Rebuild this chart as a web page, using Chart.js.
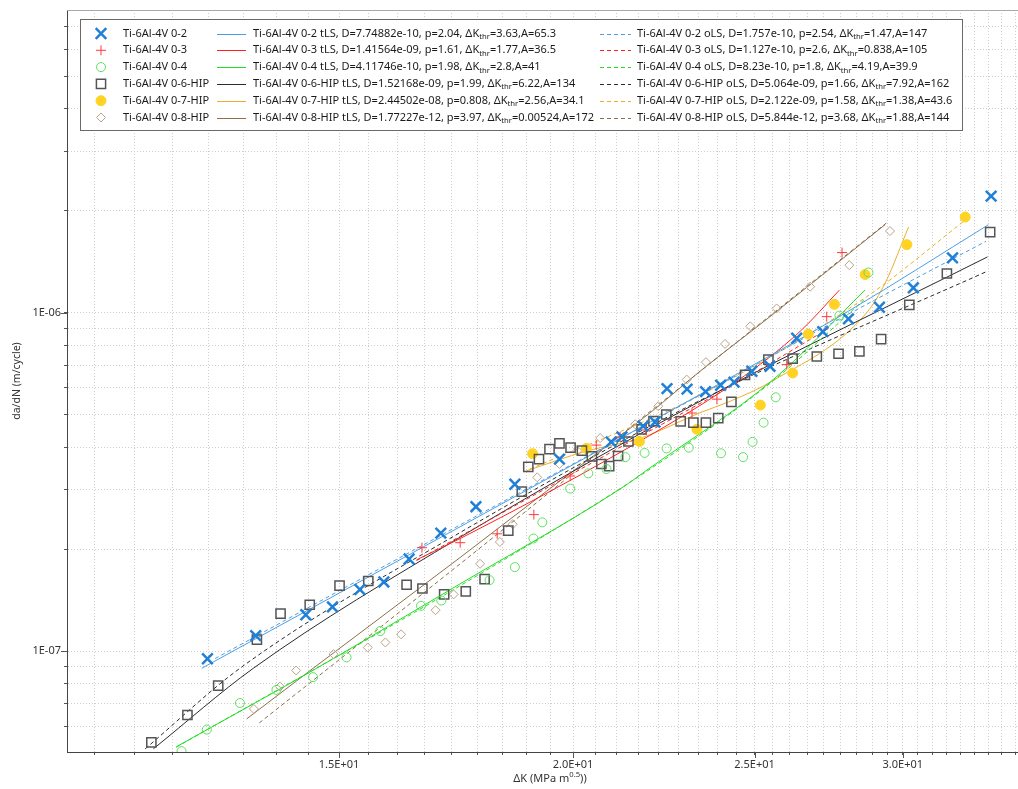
<!DOCTYPE html>
<html>
<head>
<meta charset="utf-8">
<script src="https://cdn.jsdelivr.net/npm/chart.js@4.4.0/dist/chart.umd.min.js"></script>
<style>
  html, body { margin: 0; padding: 0; background: #fff; overflow: hidden; }
</style>
</head>
<body>
<canvas id="crackChart" width="1040" height="789"></canvas>
<script>
// sample names
const samples = ['Ti-6Al-4V 0-2', 'Ti-6Al-4V 0-3', 'Ti-6Al-4V 0-4', 'Ti-6Al-4V 0-6-HIP', 'Ti-6Al-4V 0-7-HIP', 'Ti-6Al-4V 0-8-HIP'];

// fit parameters as printed in the legend (kept as text so the format stays)
const tlsD  = ['7.74882e-10', '1.41564e-09', '4.11746e-10', '1.52168e-09', '2.44502e-08', '1.77227e-12'];
const tlsP  = ['2.04', '1.61', '1.98', '1.99', '0.808', '3.97'];
const tlsDK = ['3.63', '1.77', '2.8', '6.22', '2.56', '0.00524'];
const tlsA  = ['65.3', '36.5', '41', '134', '34.1', '172'];
const olsD  = ['1.757e-10', '1.127e-10', '8.23e-10', '5.064e-09', '2.122e-09', '5.844e-12'];
const olsP  = ['2.54', '2.6', '1.8', '1.66', '1.58', '3.68'];
const olsDK = ['1.47', '0.838', '4.19', '7.92', '1.38', '1.88'];
const olsA  = ['147', '105', '39.9', '162', '43.6', '144'];

// measured points, dK (MPa m^0.5) and da/dN (m/cycle)
const dk02 = [12.76, 13.54, 14.40, 14.88, 15.39, 15.85, 16.35, 17.00, 17.75, 18.62, 19.67, 20.96, 21.24, 21.80, 22.12, 22.45, 23.01, 23.54, 23.98, 24.38, 24.92, 25.48, 26.33, 27.19, 28.06, 29.15, 30.39, 31.89, 33.44];
const da02 = [0.949e-7, 1.11e-7, 1.28e-7, 1.35e-7, 1.52e-7, 1.60e-7, 1.87e-7, 2.23e-7, 2.67e-7, 3.11e-7, 3.69e-7, 4.15e-7, 4.29e-7, 4.62e-7, 4.75e-7, 5.96e-7, 5.94e-7, 5.84e-7, 6.10e-7, 6.23e-7, 6.71e-7, 6.94e-7, 8.40e-7, 8.79e-7, 9.58e-7, 10.37e-7, 11.84e-7, 14.51e-7, 22.09e-7];

const dk03 = [16.61, 17.41, 18.22, 19.06, 19.93, 20.58, 21.19, 21.88, 23.15, 23.87, 26.01, 27.32, 27.84];
const da03 = [2.02e-7, 2.09e-7, 2.22e-7, 2.53e-7, 3.29e-7, 4.06e-7, 4.29e-7, 4.50e-7, 5.05e-7, 5.55e-7, 7.02e-7, 9.73e-7, 15.05e-7];

const dk04 = [12.36, 12.75, 13.28, 13.89, 14.53, 15.14, 15.78, 16.59, 17.01, 18.05, 18.62, 19.05, 19.26, 19.93, 20.38, 20.84, 21.33, 21.84, 22.44, 23.06, 23.99, 24.65, 24.94, 25.28, 25.66, 27.75, 28.76];
const da04 = [0.506e-7, 0.586e-7, 0.702e-7, 0.768e-7, 0.837e-7, 0.958e-7, 1.145e-7, 1.36e-7, 1.41e-7, 1.62e-7, 1.77e-7, 2.15e-7, 2.40e-7, 3.02e-7, 3.35e-7, 3.45e-7, 3.74e-7, 3.85e-7, 3.97e-7, 3.99e-7, 3.84e-7, 3.74e-7, 4.15e-7, 4.73e-7, 5.62e-7, 9.80e-7, 13.14e-7];

const dk06 = [11.91, 12.45, 12.93, 13.56, 13.96, 14.47, 15.01, 15.55, 16.30, 16.62, 17.07, 17.53, 17.94, 18.47, 18.78, 18.93, 19.18, 19.43, 19.67, 19.94, 20.22, 20.47, 20.71, 20.91, 21.14, 21.41, 21.76, 22.08, 22.43, 22.83, 23.19, 23.55, 23.91, 24.30, 24.71, 25.43, 26.20, 26.99, 27.72, 28.44, 29.21, 30.24, 31.67, 33.40];
const da06 = [0.537e-7, 0.647e-7, 0.790e-7, 1.08e-7, 1.29e-7, 1.37e-7, 1.56e-7, 1.61e-7, 1.57e-7, 1.53e-7, 1.47e-7, 1.50e-7, 1.63e-7, 2.27e-7, 2.96e-7, 3.50e-7, 3.69e-7, 3.95e-7, 4.11e-7, 3.99e-7, 3.91e-7, 3.76e-7, 3.57e-7, 3.52e-7, 3.77e-7, 4.16e-7, 4.52e-7, 4.78e-7, 5.00e-7, 4.77e-7, 4.73e-7, 4.73e-7, 4.88e-7, 5.45e-7, 6.55e-7, 7.26e-7, 7.31e-7, 7.42e-7, 7.56e-7, 7.68e-7, 8.35e-7, 10.54e-7, 13.05e-7, 17.30e-7];

const dk07 = [19.03, 20.33, 21.70, 23.29, 25.18, 26.20, 26.71, 27.58, 28.64, 30.15, 32.39];
const da07 = [3.83e-7, 3.97e-7, 4.16e-7, 4.52e-7, 5.33e-7, 6.63e-7, 8.64e-7, 10.58e-7, 12.96e-7, 15.88e-7, 19.16e-7];

const dk08 = [13.51, 13.95, 14.23, 14.90, 15.54, 15.88, 16.19, 16.89, 17.27, 17.84, 18.28, 18.57, 19.14, 19.67, 20.11, 20.68, 21.59, 22.21, 23.00, 23.55, 24.11, 24.87, 25.69, 26.77, 28.09, 29.53];
const da08 = [0.674e-7, 0.785e-7, 0.876e-7, 0.979e-7, 1.024e-7, 1.06e-7, 1.12e-7, 1.32e-7, 1.47e-7, 1.81e-7, 2.10e-7, 2.37e-7, 3.26e-7, 3.57e-7, 3.91e-7, 4.26e-7, 4.68e-7, 5.29e-7, 6.34e-7, 7.14e-7, 8.08e-7, 9.11e-7, 10.29e-7, 11.93e-7, 13.81e-7, 17.42e-7];

// fitted curves (tLS solid, oLS dashed)
const tls02x = [12.67, 17.41, 23.38, 28.06, 33.33];
const tls02y = [0.889e-7, 2.33e-7, 5.73e-7, 10.1e-7, 18.19e-7];
const ols02x = [12.88, 17.41, 23.38, 28.06, 33.23];
const ols02y = [0.95e-7, 2.36e-7, 5.7e-7, 9.9e-7, 16.25e-7];

const tls03x = [16.50, 17.41, 21.19, 24.46, 26.44, 27.75];
const tls03y = [1.86e-7, 2.15e-7, 3.86e-7, 6.27e-7, 8.8e-7, 11.66e-7];
const ols03x = [16.50, 21.19, 24.46, 27.40];
const ols03y = [1.85e-7, 4.0e-7, 6.2e-7, 9.0e-7];

const tls04x = [12.28, 14.59, 17.41, 21.19, 21.99, 25.59, 28.64];
const tls04y = [0.521e-7, 0.889e-7, 1.58e-7, 3.01e-7, 3.48e-7, 6.35e-7, 11.66e-7];
const ols04x = [12.28, 17.41, 21.99, 25.59, 28.60];
const ols04y = [0.52e-7, 1.56e-7, 3.45e-7, 6.3e-7, 10.9e-7];

const tls06x = [11.94, 13.50, 17.41, 23.38, 33.29];
const tls06y = [0.514e-7, 0.889e-7, 2.17e-7, 5.47e-7, 14.61e-7];
const ols06x = [11.82, 13.28, 17.41, 23.38, 33.23];
const ols06y = [0.514e-7, 0.889e-7, 2.24e-7, 5.5e-7, 13.20e-7];

const tls07x = [18.89, 20.34, 21.72, 23.38, 24.22, 25.54, 28.70, 29.37, 30.21];
const tls07y = [3.41e-7, 3.90e-7, 4.25e-7, 5.06e-7, 5.45e-7, 6.27e-7, 10.0e-7, 12.3e-7, 17.9e-7];
const ols07x = [18.97, 23.38, 28.70, 32.46];
const ols07y = [3.45e-7, 5.7e-7, 11.15e-7, 18.94e-7];

const tls08x = [13.39, 14.53, 17.41, 19.68, 21.99, 23.38, 25.48, 29.35];
const tls08y = [0.630e-7, 0.889e-7, 1.89e-7, 3.18e-7, 5.06e-7, 6.71e-7, 9.73e-7, 18.19e-7];
const ols08x = [13.60, 17.41, 23.38, 29.40];
const ols08y = [0.613e-7, 1.81e-7, 6.7e-7, 18.4e-7];

// labelled ticks
const xTickLabels = [15, 20, 25, 30];
const yTickLabels = [1e-7, 1e-6];

const FONT = '"Noto Sans", "Segoe UI", sans-serif';

const markerStyles = [
  { shape: 'crossRot', r: 7.5, lw: 2.5, stroke: '#2080d8', fill: '#2080d8' },
  { shape: 'cross', r: 5, lw: 1, stroke: '#ff3a3a', fill: '#ff3a3a' },
  { shape: 'circle', r: 4.5, lw: 1, stroke: '#5ee05e', fill: 'rgba(0,0,0,0)' },
  { shape: 'rect', r: 6.5, lw: 1.5, stroke: '#555555', fill: 'rgba(0,0,0,0)' },
  { shape: 'circle', r: 5, lw: 1, stroke: '#ffd324', fill: '#ffd324' },
  { shape: 'rectRot', r: 4.5, lw: 1, stroke: '#b9a38a', fill: 'rgba(0,0,0,0)' }
];
const lineColors = ['#4d9de2', '#ff2020', '#22dd22', '#2b2b2b', '#e9ae2a', '#8c6e48'];

const pointsX = [dk02, dk03, dk04, dk06, dk07, dk08];
const pointsY = [da02, da03, da04, da06, da07, da08];
const tlsX = [tls02x, tls03x, tls04x, tls06x, tls07x, tls08x];
const tlsY = [tls02y, tls03y, tls04y, tls06y, tls07y, tls08y];
const olsX = [ols02x, ols03x, ols04x, ols06x, ols07x, ols08x];
const olsY = [ols02y, ols03y, ols04y, ols06y, ols07y, ols08y];

function pairs(xs, ys) {
  return xs.map((x, i) => ({ x: x, y: ys[i] }));
}

// "1.5E+01" style labels
function sciLabel(v, digits) {
  const e = Math.floor(Math.log10(v) + 1e-9);
  const m = v / Math.pow(10, e);
  return m.toFixed(digits) + 'E' + (e < 0 ? '-' : '+') + String(Math.abs(e)).padStart(2, '0');
}

const datasets = [];
for (let i = 0; i < samples.length; i++) {
  const ms = markerStyles[i];
  datasets.push({
    label: samples[i],
    data: pairs(pointsX[i], pointsY[i]),
    showLine: false,
    pointStyle: ms.shape,
    pointRadius: ms.r,
    pointHoverRadius: ms.r,
    pointBorderWidth: ms.lw,
    borderColor: ms.stroke,
    backgroundColor: ms.fill,
    order: 0
  });
  datasets.push({
    label: samples[i] + ' tLS',
    data: pairs(tlsX[i], tlsY[i]),
    showLine: true,
    pointRadius: 0,
    borderWidth: 1,
    borderColor: lineColors[i],
    cubicInterpolationMode: 'monotone',
    order: 1
  });
  datasets.push({
    label: samples[i] + ' oLS',
    data: pairs(olsX[i], olsY[i]),
    showLine: true,
    pointRadius: 0,
    borderWidth: 1,
    borderDash: [4, 3],
    borderColor: lineColors[i],
    cubicInterpolationMode: 'monotone',
    order: 1
  });
}

function drawMarker(ctx, ms, x, y) {
  ctx.save();
  ctx.lineWidth = ms.lw;
  ctx.strokeStyle = ms.stroke;
  ctx.fillStyle = ms.fill;
  const r = ms.r, d = ms.r * Math.SQRT1_2;
  ctx.beginPath();
  if (ms.shape === 'crossRot') {
    ctx.moveTo(x - d, y - d); ctx.lineTo(x + d, y + d);
    ctx.moveTo(x + d, y - d); ctx.lineTo(x - d, y + d);
  } else if (ms.shape === 'cross') {
    ctx.moveTo(x - r, y); ctx.lineTo(x + r, y);
    ctx.moveTo(x, y - r); ctx.lineTo(x, y + r);
  } else if (ms.shape === 'circle') {
    ctx.arc(x, y, r, 0, Math.PI * 2);
    ctx.fill();
  } else if (ms.shape === 'rect') {
    ctx.rect(x - d, y - d, 2 * d, 2 * d);
  } else if (ms.shape === 'rectRot') {
    ctx.moveTo(x - r, y); ctx.lineTo(x, y - r); ctx.lineTo(x + r, y); ctx.lineTo(x, y + r);
    ctx.closePath();
  }
  ctx.stroke();
  ctx.restore();
}

// draws text pieces, some of them sub/superscript
function drawRich(ctx, parts, x, y, size) {
  for (const p of parts) {
    const s = p.small ? size * 0.7 : size;
    ctx.font = s + 'px ' + FONT;
    const dy = p.small === 'sub' ? size * 0.3 : (p.small === 'sup' ? -size * 0.38 : 0);
    ctx.fillText(p.t, x, y + dy);
    x += ctx.measureText(p.t).width;
  }
  return x;
}

function richWidth(ctx, parts, size) {
  let w = 0;
  for (const p of parts) {
    ctx.font = (p.small ? size * 0.7 : size) + 'px ' + FONT;
    w += ctx.measureText(p.t).width;
  }
  return w;
}

function fitParts(name, kind, D, p, dk, A) {
  return [
    { t: name + ' ' + kind + ', D=' + D + ', p=' + p + ', \u0394K' },
    { t: 'thr', small: 'sub' },
    { t: '=' + dk + ',A=' + A }
  ];
}

const legendPlugin = {
  id: 'fitLegend',
  afterDraw(chart) {
    const ctx = chart.ctx;
    const ca = chart.chartArea;
    const xs = chart.scales.x, ys = chart.scales.y;
    ctx.save();
    // frame top line
    ctx.strokeStyle = '#a8a8a8';
    ctx.lineWidth = 1;
    ctx.beginPath();
    ctx.moveTo(ca.left, ca.top + 0.5);
    ctx.lineTo(ca.right, ca.top + 0.5);
    ctx.stroke();

    // longer tick marks at the labelled values
    ctx.strokeStyle = '#555';
    ctx.beginPath();
    for (const v of xTickLabels) {
      const px = Math.round(xs.getPixelForValue(v)) + 0.5;
      ctx.moveTo(px, ca.bottom);
      ctx.lineTo(px, ca.bottom + 6);
    }
    for (const v of yTickLabels) {
      const py = Math.round(ys.getPixelForValue(v)) + 0.5;
      ctx.moveTo(ca.left, py);
      ctx.lineTo(ca.left - 6, py);
    }
    ctx.stroke();

    // legend box
    ctx.fillStyle = '#ffffff';
    ctx.fillRect(80.5, 19.5, 882, 111);
    ctx.strokeStyle = '#6a6a6a';
    ctx.strokeRect(80.5, 19.5, 882, 111);

    ctx.textBaseline = 'middle';
    ctx.textAlign = 'left';
    const size = 11;
    for (let i = 0; i < samples.length; i++) {
      const y = 33.5 + i * 16.8;
      drawMarker(ctx, markerStyles[i], 101, y);
      ctx.fillStyle = '#1a1a1a';
      ctx.font = size + 'px ' + FONT;
      ctx.fillText(samples[i], 123, y);

      ctx.strokeStyle = lineColors[i];
      ctx.lineWidth = 1;
      ctx.setLineDash([]);
      ctx.beginPath();
      ctx.moveTo(217, Math.round(y) + 0.5);
      ctx.lineTo(246, Math.round(y) + 0.5);
      ctx.stroke();
      ctx.fillStyle = '#1a1a1a';
      drawRich(ctx, fitParts(samples[i], 'tLS', tlsD[i], tlsP[i], tlsDK[i], tlsA[i]), 253, y, size);

      ctx.setLineDash([4, 3]);
      ctx.beginPath();
      ctx.moveTo(600, Math.round(y) + 0.5);
      ctx.lineTo(631, Math.round(y) + 0.5);
      ctx.stroke();
      ctx.setLineDash([]);
      ctx.fillStyle = '#1a1a1a';
      drawRich(ctx, fitParts(samples[i], 'oLS', olsD[i], olsP[i], olsDK[i], olsA[i]), 637, y, size);
    }

    // x axis title with superscript
    ctx.fillStyle = '#333';
    const parts = [{ t: '\u0394K (MPa m' }, { t: '0.5', small: 'sup' }, { t: '))' }];
    const w = richWidth(ctx, parts, 11);
    drawRich(ctx, parts, 550 - w / 2, 779, 11);
    ctx.restore();
  }
};

const xStep = 5 / 9;
const xTicks = [];
for (let k = -7; k <= 37; k++) xTicks.push(15 + k * xStep);
const yTicks = [];
for (let e = -8; e <= -6; e++) {
  for (let m = 1; m <= 9; m++) yTicks.push(m * Math.pow(10, e));
}

const yMin = 5.03e-8, yMax = 7.84e-6;

const chart = new Chart(document.getElementById('crackChart').getContext('2d'), {
  type: 'scatter',
  data: { datasets: datasets },
  options: {
    responsive: false,
    devicePixelRatio: 1,
    animation: false,
    layout: { padding: { top: 7, right: 0, bottom: 0, left: 0 } },
    plugins: { legend: { display: false }, tooltip: { enabled: false } },
    scales: {
      x: {
        type: 'logarithmic',
        min: 10.737,
        max: 35.2,
        afterBuildTicks: s => { s.ticks = xTicks.filter(v => v >= s.min && v <= s.max).map(v => ({ value: v })); },
        afterFit: s => { s.height = 37; s.paddingLeft = 0; s.paddingRight = 0; },
        ticks: {
          autoSkip: false,
          maxRotation: 0,
          padding: 3,
          color: '#333',
          font: { family: FONT, size: 11 },
          callback: v => {
            const hit = xTickLabels.find(t => Math.abs(t - v) < 1e-6);
            return hit ? sciLabel(hit, 1) : '';
          }
        },
        grid: { color: '#cdcdcd', tickColor: '#555', tickLength: 3 },
        border: { color: '#444', dash: [1, 2] }
      },
      y: {
        type: 'logarithmic',
        min: yMin,
        max: yMax,
        afterBuildTicks: s => { s.ticks = yTicks.filter(v => v >= yMin && v <= yMax).map(v => ({ value: v })); },
        afterFit: s => { s.width = 67; s.paddingTop = 0; s.paddingBottom = 0; },
        ticks: {
          autoSkip: false,
          padding: 3,
          color: '#333',
          font: { family: FONT, size: 11 },
          callback: v => {
            const hit = yTickLabels.find(t => Math.abs(t - v) / t < 1e-6);
            return hit ? sciLabel(hit, 0) : '';
          }
        },
        grid: { color: '#cdcdcd', tickColor: '#555', tickLength: 3 },
        border: { color: '#444', dash: [1, 2] },
        title: {
          display: true,
          text: 'da/dN (m/cycle)',
          color: '#333',
          font: { family: FONT, size: 10.5 },
          padding: { top: 11, bottom: 2 }
        }
      }
    }
  },
  plugins: [legendPlugin]
});

// pin the dK axis to the chart area: 15 sits at x=339 px, 1873 px per decade
const area = chart.chartArea;
chart.options.scales.x.min = 15 * Math.pow(10, (area.left - 339) / 1873);
chart.options.scales.x.max = 15 * Math.pow(10, (area.right - 339) / 1873);
chart.update('none');
</script>
</body>
</html>
